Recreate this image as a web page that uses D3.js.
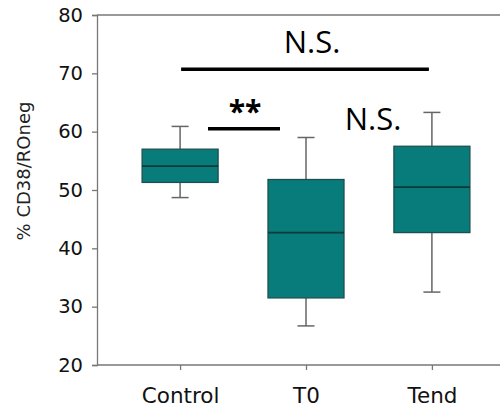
<!DOCTYPE html>
<html>
<head>
<meta charset="utf-8">
<script src="https://cdn.jsdelivr.net/npm/d3@7"></script>
<style>
  html, body { margin: 0; padding: 0; background: #fff; }
  svg { display: block; }
</style>
</head>
<body>
<svg id="chart" width="500" height="409"></svg>
<script>
// Box-plot summaries per group
const groups = ["Control", "T0", "Tend"];
const whiskerLow  = [48.7, 26.7, 32.5];
const q1          = [51.3, 31.5, 42.7];
const median      = [54.1, 42.7, 50.5];
const q3          = [57.0, 51.8, 57.5];
const whiskerHigh = [60.9, 59.0, 63.3];

const yTicks = [20, 30, 40, 50, 60, 70, 80];

// Significance brackets: [from group, to group, level in y units, label]
const brackets = [
  { from: "Control", to: "Tend", y: 70.7, label: "N.S." },
  { from: "Control", to: "T0", y: 60.5, label: "**" }
];

const svg = d3.select("#chart");
const plotLeft = 97, plotRight = 515, plotTop = 15, plotBottom = 365;

const x = d3.scalePoint().domain(groups).range([plotLeft, plotRight]).padding(0.66);
const y = d3.scaleLinear().domain([20, 80]).range([plotBottom, plotTop]);

const axisColor = "#777";
const tickFont = "'DejaVu Sans', sans-serif";

// Top frame line
svg.append("line").attr("x1", plotLeft).attr("x2", 500).attr("y1", plotTop).attr("y2", plotTop)
  .attr("stroke", axisColor).attr("stroke-width", 1.3);

// Y axis
const yAxis = svg.append("g").attr("transform", `translate(${plotLeft},0)`)
  .call(d3.axisLeft(y).tickValues(yTicks).tickSize(5).tickPadding(9));
yAxis.select(".domain").attr("stroke", axisColor).attr("stroke-width", 1.3);
yAxis.selectAll(".tick line").attr("stroke", axisColor).attr("stroke-width", 1.3);
yAxis.selectAll(".tick text").attr("fill", "#111").attr("font-size", 19.5)
  .attr("font-family", tickFont);

// X axis
const xAxis = svg.append("g").attr("transform", `translate(0,${plotBottom})`)
  .call(d3.axisBottom(x).tickSize(5).tickPadding(18));
xAxis.select(".domain").attr("stroke", axisColor).attr("stroke-width", 1.3)
  .attr("d", `M${plotLeft},0H500`);
xAxis.selectAll(".tick line").attr("stroke", axisColor).attr("stroke-width", 1.3);
xAxis.selectAll(".tick text").attr("fill", "#111").attr("font-size", 21.5)
  .attr("font-family", tickFont);

// Y axis title
svg.append("text")
  .attr("transform", `translate(30,${(y(80) + y(20)) / 2 - 19}) rotate(-90)`)
  .attr("text-anchor", "middle")
  .attr("font-family", tickFont)
  .attr("font-size", 18)
  .attr("fill", "#222")
  .text("% CD38/ROneg");

// Boxes
const boxW = 76, capW = 17;
const data = groups.map((g, i) => ({
  g, lo: whiskerLow[i], q1: q1[i], med: median[i], q3: q3[i], hi: whiskerHigh[i]
}));

const box = svg.append("g").selectAll("g").data(data).join("g");

box.append("line")
  .attr("x1", d => x(d.g)).attr("x2", d => x(d.g))
  .attr("y1", d => y(d.hi)).attr("y2", d => y(d.q3))
  .attr("stroke", "#666").attr("stroke-width", 1.5);
box.append("line")
  .attr("x1", d => x(d.g)).attr("x2", d => x(d.g))
  .attr("y1", d => y(d.q1)).attr("y2", d => y(d.lo))
  .attr("stroke", "#666").attr("stroke-width", 1.5);
box.selectAll(".cap").data(d => [[d.g, d.hi], [d.g, d.lo]]).join("line")
  .attr("class", "cap")
  .attr("x1", d => x(d[0]) - capW / 2).attr("x2", d => x(d[0]) + capW / 2)
  .attr("y1", d => y(d[1])).attr("y2", d => y(d[1]))
  .attr("stroke", "#666").attr("stroke-width", 1.5);

box.append("rect")
  .attr("x", d => x(d.g) - boxW / 2)
  .attr("width", boxW)
  .attr("y", d => y(d.q3))
  .attr("height", d => y(d.q1) - y(d.q3))
  .attr("fill", "#087b7b")
  .attr("stroke", "#1e4f4f")
  .attr("stroke-width", 1.3);

box.append("line")
  .attr("x1", d => x(d.g) - boxW / 2).attr("x2", d => x(d.g) + boxW / 2)
  .attr("y1", d => y(d.med)).attr("y2", d => y(d.med))
  .attr("stroke", "#0c3838").attr("stroke-width", 1.6);

// Significance annotations
const annoFont = "'Open Sans', 'Noto Sans', sans-serif";

// Long bracket Control–Tend
svg.append("line")
  .attr("x1", x("Control") + 1).attr("x2", x("Tend") - 3)
  .attr("y1", y(brackets[0].y)).attr("y2", y(brackets[0].y))
  .attr("stroke", "#000").attr("stroke-width", 3.6);
svg.append("text")
  .attr("x", 312)
  .attr("y", 53)
  .attr("text-anchor", "middle")
  .attr("font-family", annoFont)
  .attr("font-size", 31)
  .attr("fill", "#000")
  .text(brackets[0].label);

// Short bracket Control–T0
svg.append("line")
  .attr("x1", 208).attr("x2", 280)
  .attr("y1", y(brackets[1].y)).attr("y2", y(brackets[1].y))
  .attr("stroke", "#000").attr("stroke-width", 3.6);
svg.append("text")
  .attr("x", 245)
  .attr("y", 122)
  .attr("text-anchor", "middle")
  .attr("font-family", annoFont)
  .attr("font-size", 30)
  .attr("font-weight", "bold")
  .attr("fill", "#000")
  .text(brackets[1].label);

// T0–Tend label
svg.append("text")
  .attr("x", 373)
  .attr("y", 130)
  .attr("text-anchor", "middle")
  .attr("font-family", annoFont)
  .attr("font-size", 31)
  .attr("fill", "#000")
  .text("N.S.");
</script>
</body>
</html>
